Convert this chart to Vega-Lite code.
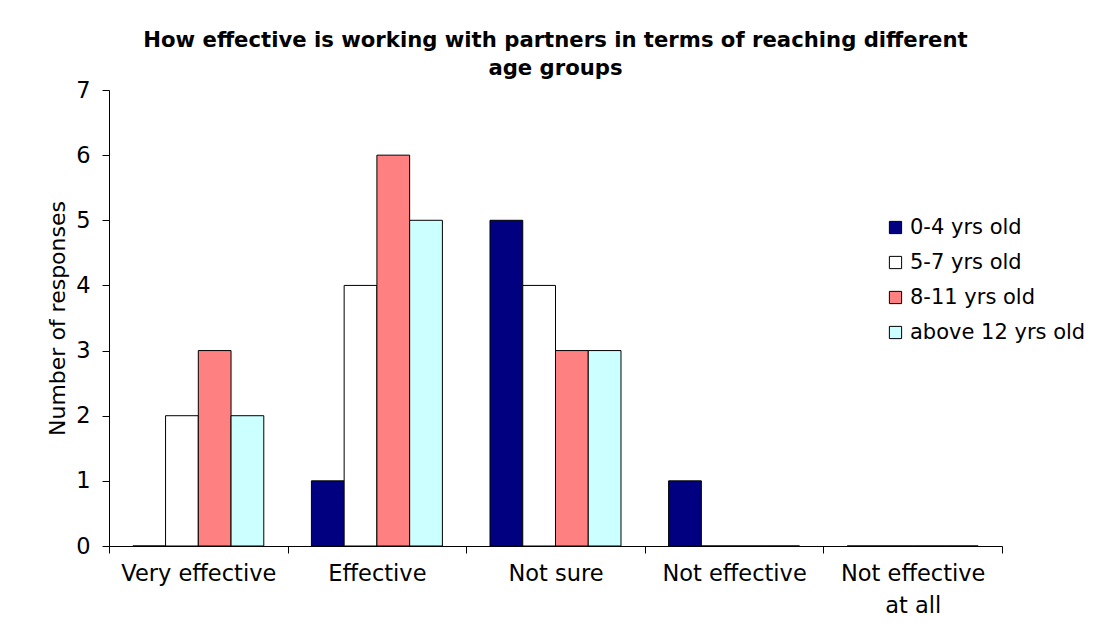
{
  "$schema": "https://vega.github.io/schema/vega-lite/v6.json",
  "autosize": {"type": "none"},
  "width": 893,
  "height": 456,
  "padding": {"left": 109, "top": 90, "right": 92, "bottom": 91},
  "background": "white",
  "title": {
    "text": ["How effective is working with partners in terms of reaching different", "age groups"],
    "font": "DejaVu Sans",
    "fontSize": 21.2,
    "fontWeight": "bold",
    "color": "black",
    "lineHeight": 28,
    "anchor": "middle",
    "offset": 0
  },
  "data": {
    "values": [
      {"rating": "Very effective", "age": "0-4 yrs old", "count": 0},
      {"rating": "Very effective", "age": "5-7 yrs old", "count": 2},
      {"rating": "Very effective", "age": "8-11 yrs old", "count": 3},
      {"rating": "Very effective", "age": "above 12 yrs old", "count": 2},
      {"rating": "Effective", "age": "0-4 yrs old", "count": 1},
      {"rating": "Effective", "age": "5-7 yrs old", "count": 4},
      {"rating": "Effective", "age": "8-11 yrs old", "count": 6},
      {"rating": "Effective", "age": "above 12 yrs old", "count": 5},
      {"rating": "Not sure", "age": "0-4 yrs old", "count": 5},
      {"rating": "Not sure", "age": "5-7 yrs old", "count": 4},
      {"rating": "Not sure", "age": "8-11 yrs old", "count": 3},
      {"rating": "Not sure", "age": "above 12 yrs old", "count": 3},
      {"rating": "Not effective", "age": "0-4 yrs old", "count": 1},
      {"rating": "Not effective", "age": "5-7 yrs old", "count": 0},
      {"rating": "Not effective", "age": "8-11 yrs old", "count": 0},
      {"rating": "Not effective", "age": "above 12 yrs old", "count": 0},
      {"rating": "Not effective at all", "age": "0-4 yrs old", "count": 0},
      {"rating": "Not effective at all", "age": "5-7 yrs old", "count": 0},
      {"rating": "Not effective at all", "age": "8-11 yrs old", "count": 0},
      {"rating": "Not effective at all", "age": "above 12 yrs old", "count": 0}
    ]
  },
  "mark": {"type": "bar", "stroke": "black", "strokeWidth": 1},
  "encoding": {
    "x": {
      "field": "rating",
      "type": "nominal",
      "sort": ["Very effective", "Effective", "Not sure", "Not effective", "Not effective at all"],
      "scale": {"paddingInner": 0, "paddingOuter": 0},
      "axis": {
        "title": null,
        "labelAngle": 0,
        "tickBand": "extent",
        "tickSize": 7,
        "tickColor": "black",
        "domainColor": "black",
        "labelFont": "DejaVu Sans",
        "labelFontSize": 22.5,
        "labelColor": "black",
        "labelPadding": 9,
        "labelLineHeight": 32,
        "labelLimit": 300,
        "labelExpr": "datum.label == 'Not effective at all' ? ['Not effective', 'at all'] : datum.label"
      }
    },
    "xOffset": {
      "field": "age",
      "type": "nominal",
      "sort": ["0-4 yrs old", "5-7 yrs old", "8-11 yrs old", "above 12 yrs old"],
      "scale": {"paddingInner": 0, "paddingOuter": 0.727}
    },
    "y": {
      "field": "count",
      "type": "quantitative",
      "scale": {"domain": [0, 7], "nice": false},
      "axis": {
        "title": "Number of responses",
        "titleFont": "DejaVu Sans",
        "titleFontSize": 22,
        "titleFontWeight": "normal",
        "titleColor": "black",
        "titlePadding": 6,
        "values": [0, 1, 2, 3, 4, 5, 6, 7],
        "grid": false,
        "tickSize": 7,
        "tickColor": "black",
        "domainColor": "black",
        "labelFont": "DejaVu Sans",
        "labelFontSize": 22.5,
        "labelColor": "black",
        "labelPadding": 12
      }
    },
    "fill": {
      "field": "age",
      "type": "nominal",
      "sort": ["0-4 yrs old", "5-7 yrs old", "8-11 yrs old", "above 12 yrs old"],
      "scale": {
        "domain": ["0-4 yrs old", "5-7 yrs old", "8-11 yrs old", "above 12 yrs old"],
        "range": ["#000080", "#FFFFFF", "#FF8080", "#CCFFFF"]
      },
      "legend": {
        "title": null,
        "orient": "none",
        "legendX": 776,
        "legendY": 127,
        "symbolType": "square",
        "symbolSize": 150,
        "symbolStrokeColor": "black",
        "symbolStrokeWidth": 1,
        "symbolOpacity": 1,
        "labelFont": "DejaVu Sans",
        "labelFontSize": 21,
        "labelColor": "black",
        "labelOffset": 4,
        "labelLimit": 300,
        "rowPadding": 13
      }
    }
  },
  "config": {
    "view": {"stroke": null},
    "axis": {"domainWidth": 1, "tickWidth": 1}
  }
}
